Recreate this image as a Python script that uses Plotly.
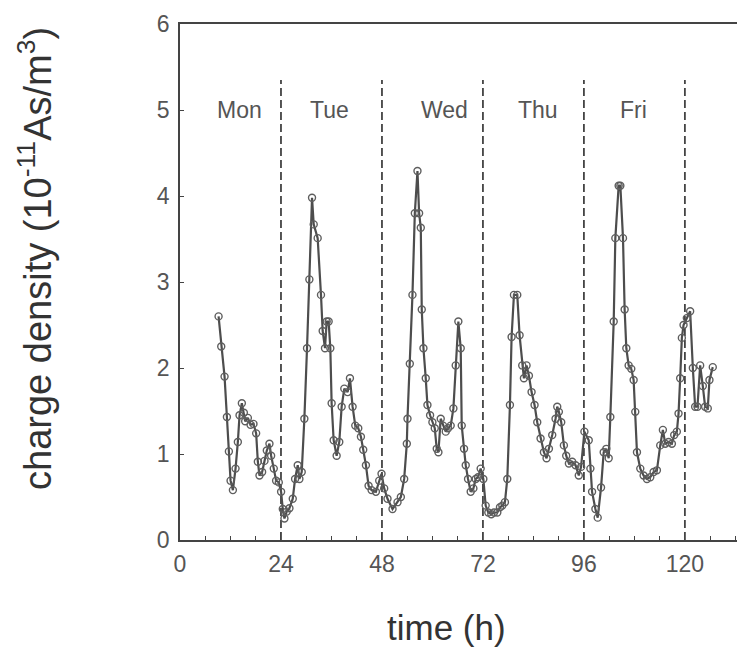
import plotly.graph_objects as go

# time (h) and charge density (1e-11 As/m^3)
time_h = [9.17, 9.80, 10.59, 11.15, 11.62, 12.02, 12.57, 13.20, 13.75, 14.15,
          14.70, 15.18, 15.49, 16.13, 16.76, 17.47, 18.10, 18.50, 18.89, 19.52,
          20.08, 20.63, 21.26, 21.66, 22.29, 22.84, 23.48, 24.03, 24.43, 24.82,
          25.37, 26.01, 26.80, 27.35, 27.98, 28.38, 28.93, 29.56, 30.19, 30.75,
          31.38, 31.78, 32.72, 33.51, 33.91, 34.46, 34.86, 35.33, 35.73, 36.04,
          36.52, 37.23, 37.86, 38.42, 39.05, 39.84, 40.39, 41.02, 41.66, 42.37,
          43.00, 43.55, 44.19, 44.82, 45.53, 46.56, 47.35, 47.90, 48.53, 49.32,
          50.51, 51.70, 52.49, 53.28, 53.91, 54.07, 54.62, 55.25, 55.81, 56.44,
          56.83, 57.23, 57.46, 57.86, 58.41, 58.81, 59.44, 59.99, 60.55, 61.02,
          61.42, 61.97, 62.53, 63.16, 63.71, 64.34, 64.98, 65.53, 66.16, 66.72,
          66.96, 67.51, 67.91, 68.46, 69.09, 69.73, 70.28, 70.83, 71.46, 72.10,
          72.65, 73.28, 73.99, 74.63, 75.42, 76.05, 76.60, 77.23, 77.79, 78.42,
          78.81, 79.37, 80.16, 80.71, 81.34, 81.74, 82.37, 82.93, 83.56, 84.27,
          84.91, 85.70, 86.49, 87.12, 87.68, 88.47, 89.26, 89.66, 90.05, 90.61,
          91.24, 91.79, 92.43, 93.22, 94.01, 94.78, 95.33, 96.12, 97.15, 97.54,
          97.94, 98.73, 99.28, 100.07, 100.70, 101.33, 101.89, 102.28, 103.08, 103.47,
          104.26, 104.66, 105.29, 105.68, 106.08, 106.63, 107.26, 107.82, 108.21, 108.61,
          109.40, 110.19, 110.98, 111.77, 112.56, 113.35, 114.14, 114.77, 115.33, 116.12,
          116.91, 117.46, 118.09, 118.49, 118.88, 119.28, 119.68, 120.46, 121.25, 121.89,
          122.44, 122.99, 123.63, 124.26, 124.81, 125.44, 125.84, 126.63]

charge = [2.60, 2.25, 1.90, 1.43, 1.03, 0.69, 0.58, 0.83, 1.14, 1.45,
          1.59, 1.48, 1.38, 1.42, 1.34, 1.35, 1.24, 0.91, 0.75, 0.79,
          0.92, 1.04, 1.12, 0.98, 0.83, 0.69, 0.67, 0.56, 0.36, 0.25,
          0.33, 0.37, 0.48, 0.71, 0.87, 0.71, 0.79, 1.41, 2.23, 3.03,
          3.98, 3.67, 3.51, 2.85, 2.43, 2.23, 2.54, 2.54, 2.23, 1.59,
          1.16, 0.98, 1.14, 1.55, 1.76, 1.72, 1.88, 1.55, 1.33, 1.30,
          1.20, 1.05, 0.87, 0.63, 0.58, 0.56, 0.69, 0.77, 0.60, 0.48,
          0.36, 0.44, 0.50, 0.71, 1.12, 1.41, 2.05, 2.85, 3.80, 4.29,
          3.80, 3.63, 2.68, 2.23, 1.88, 1.57, 1.45, 1.37, 1.30, 1.06,
          1.02, 1.41, 1.33, 1.26, 1.30, 1.33, 1.53, 2.03, 2.54, 2.23,
          1.33, 1.06, 0.87, 0.71, 0.56, 0.60, 0.71, 0.73, 0.83, 0.71,
          0.40, 0.32, 0.30, 0.32, 0.32, 0.38, 0.40, 0.44, 0.71, 1.57,
          2.36, 2.85, 2.85, 2.38, 2.03, 1.88, 2.03, 1.91, 1.72, 1.57,
          1.37, 1.18, 1.02, 0.95, 1.06, 1.22, 1.41, 1.55, 1.49, 1.37,
          1.10, 0.98, 0.89, 0.91, 0.87, 0.75, 0.85, 1.26, 1.16, 0.83,
          0.56, 0.36, 0.26, 0.61, 1.02, 1.06, 0.95, 1.43, 2.54, 3.51,
          4.12, 4.12, 3.51, 2.68, 2.23, 2.03, 1.99, 1.86, 1.49, 1.02,
          0.83, 0.75, 0.71, 0.73, 0.79, 0.81, 1.10, 1.28, 1.12, 1.14,
          1.12, 1.22, 1.26, 1.47, 1.88, 2.35, 2.50, 2.58, 2.66, 2.00,
          1.55, 1.55, 2.03, 1.79, 1.55, 1.53, 1.86, 2.01]

day_names = ["Mon", "Tue", "Wed", "Thu", "Fri"]
day_label_x = [14.2, 35.6, 62.8, 85.1, 107.7]
day_label_y = 5.0
day_boundaries = [24, 48, 72, 96, 120]
divider_top = 5.35

x_ticks = [0, 24, 48, 72, 96, 120]
y_ticks = [0, 1, 2, 3, 4, 5, 6]

ink = "#444444"
label_ink = "#555555"
font_family = "Liberation Sans, Arial, Helvetica, sans-serif"

fig = go.Figure()

for xb in day_boundaries:
    fig.add_trace(go.Scatter(
        x=[xb, xb], y=[0, divider_top], mode="lines",
        line=dict(color=ink, width=1.8, dash="8px,4px"),
        showlegend=False, hoverinfo="skip"))

fig.add_trace(go.Scatter(
    x=time_h, y=charge, mode="lines+markers",
    line=dict(color="#4d4d4d", width=2.2),
    marker=dict(symbol="circle-open", size=7, color="#5e5e5e",
                line=dict(width=1.4, color="#5e5e5e")),
    showlegend=False))

for name, xl in zip(day_names, day_label_x):
    fig.add_annotation(x=xl, y=day_label_y, text=name, showarrow=False,
                       font=dict(size=23, color=label_ink, family=font_family),
                       xanchor="center", yanchor="middle")

fig.add_annotation(xref="paper", yref="paper", x=-0.255, y=0.545,
                   text="charge density (10<sup>-11</sup>As/m<sup>3</sup>)",
                   textangle=-90, showarrow=False,
                   font=dict(size=38, color="#333333", family=font_family),
                   xanchor="center", yanchor="middle")
fig.add_annotation(xref="paper", yref="paper", x=0.47, y=-0.17,
                   text="time (h)", showarrow=False,
                   font=dict(size=35, color="#333333", family=font_family),
                   xanchor="center", yanchor="middle")

fig.update_xaxes(range=[0, 135], tickvals=x_ticks, ticks="inside", ticklen=8,
                 tickwidth=1.4, tickcolor=ink,
                 minor=dict(dtick=6, tick0=0, ticks="inside", ticklen=4,
                            tickcolor=ink, tickwidth=1.2),
                 showline=True, linecolor=ink, linewidth=1.8, mirror=True,
                 showgrid=False, zeroline=False,
                 tickfont=dict(size=23, color=label_ink, family=font_family),
                 ticklabelstandoff=2)
fig.update_yaxes(range=[0, 6], tickvals=y_ticks, ticks="inside", ticklen=4,
                 tickwidth=1.3, tickcolor=ink,
                 showline=True, linecolor=ink, linewidth=1.8, mirror=True,
                 showgrid=False, zeroline=False,
                 tickfont=dict(size=23, color=label_ink, family=font_family),
                 ticklabelstandoff=4)

fig.update_layout(width=745, height=648,
                  margin=dict(l=172, r=3, t=15, b=116),
                  plot_bgcolor="white", paper_bgcolor="white")

fig.write_html("out.html")
